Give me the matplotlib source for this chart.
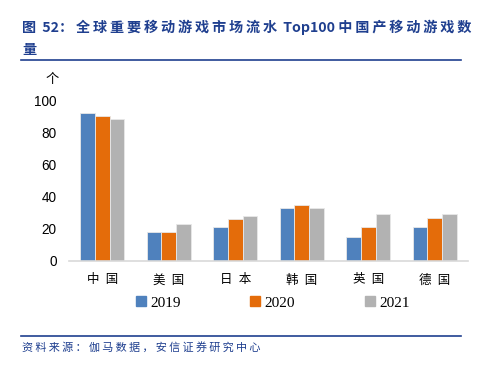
import numpy as np
import matplotlib.pyplot as plt
from matplotlib.lines import Line2D

plt.rcParams['font.family'] = ['Noto Sans CJK SC', 'DejaVu Sans']

# データ
categories = ["中国", "美国", "日本", "韩国", "英国", "德国"]
years = ["2019", "2020", "2021"]
v2019 = [92, 18, 21, 33, 15, 21]
v2020 = [90, 18, 26, 35, 21, 27]
v2021 = [88, 23, 28, 33, 29, 29]
colors = ["#4F81BD", "#E46C0A", "#B2B2B2"]

title_line1 = "图 52：全球重要移动游戏市场流水 Top100 中国产移动游戏数"
title_line2 = "量"
source = "资料来源：伽马数据，安信证券研究中心"
blue = "#1F3F8F"


def spaced(s):
    # 漢字の間に細いスペースを入れる
    out = ""
    for ch in s:
        out += ch
        if ord(ch) > 0x2E80:
            out += "\u2009"
    return out


fig = plt.figure(figsize=(4.98, 3.70), dpi=100)
ax = fig.add_axes([69 / 498, 1 - 261 / 370, 399 / 498, 161 / 370])

x = np.arange(len(categories))
w = 0.22
for i, vals in enumerate([v2019, v2020, v2021]):
    ax.bar(x + (i - 1) * w, vals, w, color=colors[i], label=years[i],
           edgecolor="#E8E8E8", linewidth=0.6)

ax.set_xlim(-0.5, len(categories) - 0.5)
ax.set_ylim(0, 100)
ax.set_yticks([0, 20, 40, 60, 80, 100])
ax.set_xticks(x)
ax.set_xticklabels(["\u2002".join(c) for c in categories], fontsize=9)
for lab in ax.get_yticklabels():
    lab.set_fontfamily("Liberation Sans")
    lab.set_fontsize(9.8)
ax.tick_params(length=0, pad=9)
ax.tick_params(axis="x", pad=9)
for s in ["top", "right", "left"]:
    ax.spines[s].set_visible(False)
ax.spines["bottom"].set_color("#D9D9D9")
ax.spines["bottom"].set_linewidth(1.2)

# 単位
fig.text(52 / 498, 1 - 80 / 370, "个", fontsize=9.5, ha="center", va="center")

# 凡例
handles = [Line2D([], [], marker="s", linestyle="", markersize=6.5,
                  color=c) for c in colors]
leg = fig.legend(handles, years, loc="center", ncol=3, frameon=False,
                 bbox_to_anchor=(273 / 498, 1 - 303 / 370),
                 prop={"family": "Liberation Serif", "size": 11},
                 handlelength=0.6, handletextpad=0.3, columnspacing=4.6)

# タイトル
fig.text(22 / 498, 1 - 27 / 370, spaced(title_line1), fontsize=10.2,
         color=blue, fontweight="bold", ha="left", va="center")
fig.text(22 / 498, 1 - 50 / 370, title_line2, fontsize=10.2, color=blue,
         fontweight="bold", ha="left", va="center")
fig.add_artist(Line2D([21 / 498, 461 / 498], [1 - 60 / 370, 1 - 60 / 370],
                      color=blue, linewidth=1.2))
fig.add_artist(Line2D([21 / 498, 461 / 498], [1 - 336 / 370, 1 - 336 / 370],
                      color=blue, linewidth=1.2))
fig.text(22 / 498, 1 - 347 / 370, spaced(source), fontsize=8, color=blue,
         style="italic", ha="left", va="center")

fig.savefig("out.png", dpi=100)
